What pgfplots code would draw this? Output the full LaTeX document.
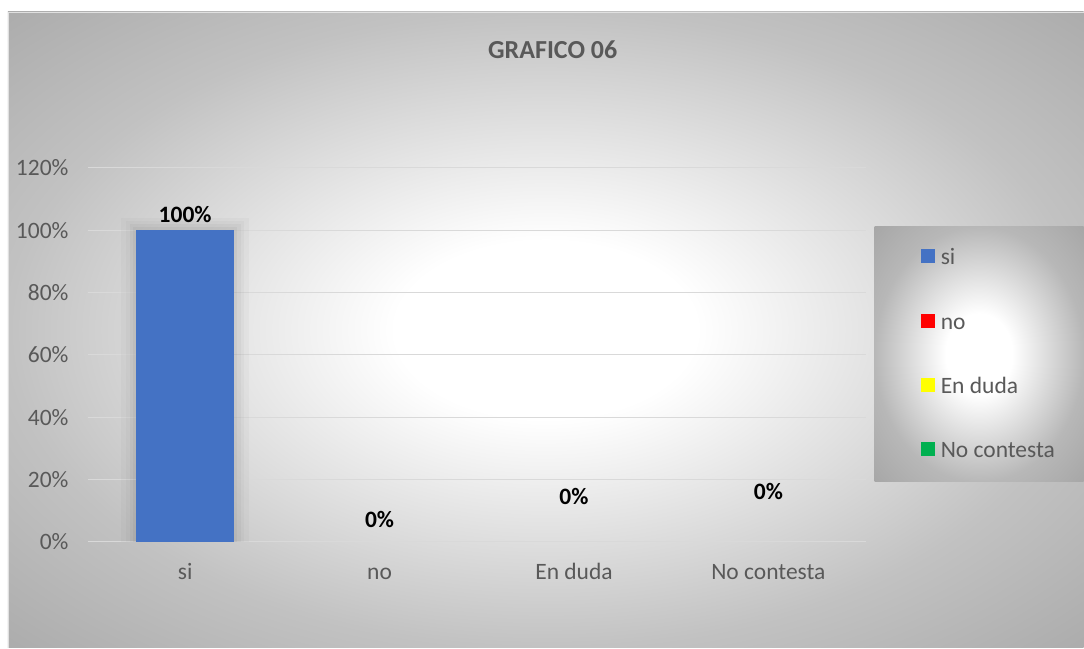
\documentclass[border=0pt]{standalone}
\usepackage{pgfplots}
\pgfplotsset{compat=1.18}
\usepackage{fontspec}
\setmainfont{Carlito}
\definecolor{txt}{HTML}{595959}
\definecolor{cblue}{HTML}{4472C4}
\definecolor{cred}{HTML}{FF0000}
\definecolor{cyel}{HTML}{FFFF00}
\definecolor{cgreen}{HTML}{00B050}
\pgfdeclareradialshading{bgshade}{\pgfpoint{0bp}{0bp}}{color(0bp)=(white); color(7bp)=(white); color(25bp)=(black!24); color(36bp)=(black!33); color(50bp)=(black!33)}
\pgfdeclareradialshading{legshade}{\pgfpoint{0bp}{0bp}}{color(0bp)=(white); color(8bp)=(white); color(25bp)=(black!28); color(36bp)=(black!35); color(50bp)=(black!35)}
\begin{document}
\begin{tikzpicture}
\fill[white] (0bp,0bp) rectangle (1084bp,648bp);
\shade[shading=bgshade] (8bp,0bp) rectangle (1084bp,636bp);
\draw[black!12, line width=1bp] (8.5bp,0bp) -- (8.5bp,635.5bp) -- (1084bp,635.5bp);
\shade[shading=legshade] (875bp,166bp) rectangle (1084bp,421bp);
\node[font=\bfseries\fontsize{26bp}{30bp}\selectfont, text=txt] at (553bp,598bp) {GRAFICO 06};
\begin{axis}[
  at={(88bp,106bp)}, anchor=south west, scale only axis,
  width=778bp, height=374bp,
  xmin=-0.5, xmax=3.5, ymin=0, ymax=120,
  ytick={0,20,...,120}, xtick={0,1,2,3},
  xticklabels={si,no,En duda,No contesta},
  /pgf/number format/assume math mode=true,
  yticklabel={\pgfmathprintnumber{\tick}\%},
  ymajorgrids, grid style={black!15, line width=1bp},
  axis line style={draw=none}, major tick length=0pt,
  tick label style={font=\fontsize{23.5bp}{27bp}\selectfont, text=txt},
  yticklabel style={anchor=east, xshift=-16bp},
  xticklabel style={anchor=base, yshift=-38bp},
  ybar, bar width=0.504, bar shift=0pt,
  legend image code/.code={\path[#1,draw=none,fill opacity=1] (0bp,-1bp) rectangle (14bp,13bp); \path (19bp,0bp);},
  legend style={at={(rel axis cs:1.0707,0.4987)}, anchor=west, draw=none, fill=none, inner sep=0pt,
    row sep=45.4bp, font=\fontsize{23.5bp}{27bp}\selectfont, text=txt,
    nodes={inner sep=1bp, text depth=0.25em, text height=0.75em}},
  legend cell align=left,
  every node near coord/.append style={font=\bfseries\fontsize{23.5bp}{27bp}\selectfont, text=black, text opacity=1, anchor=center},
  clip=false,
]
% soft shadow of the bar
\addplot[fill=black, fill opacity=0.022, draw=none, bar width=0.66, forget plot] coordinates {(0,104)};
\addplot[fill=black, fill opacity=0.025, draw=none, bar width=0.61, forget plot] coordinates {(0,103)};
\addplot[fill=black, fill opacity=0.03, draw=none, bar width=0.57, forget plot] coordinates {(0,102)};
\addplot[fill=black, fill opacity=0.035, draw=none, bar width=0.535, forget plot] coordinates {(0,101)};
% data
\addplot[fill=cblue, draw=none, nodes near coords={\pgfmathprintnumber{\pgfplotspointmeta}\%}, every node near coord/.append style={yshift=16bp}] coordinates {(0,100)};
\addplot[fill=cred, fill opacity=0, draw=none, nodes near coords={\pgfmathprintnumber{\pgfplotspointmeta}\%}, every node near coord/.append style={yshift=22bp}] coordinates {(1,0)};
\addplot[fill=cyel, fill opacity=0, draw=none, nodes near coords={\pgfmathprintnumber{\pgfplotspointmeta}\%}, every node near coord/.append style={yshift=45bp}] coordinates {(2,0)};
\addplot[fill=cgreen, fill opacity=0, draw=none, nodes near coords={\pgfmathprintnumber{\pgfplotspointmeta}\%}, every node near coord/.append style={yshift=50bp}] coordinates {(3,0)};
\legend{si,no,En duda,No contesta}
\end{axis}
\end{tikzpicture}
\end{document}
